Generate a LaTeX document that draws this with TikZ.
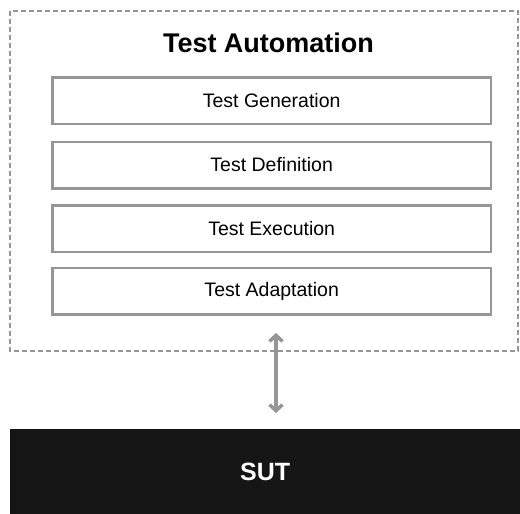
\documentclass[tikz,border=0pt]{standalone}
\usepackage{fontspec}
\setmainfont{Liberation Sans}
\usetikzlibrary{arrows.meta}
\definecolor{edgegray}{RGB}{150,150,150}
\definecolor{sutblack}{RGB}{21,21,21}
\begin{document}
\begin{tikzpicture}[x=1pt,y=-1pt,
  layerbox/.style={draw=edgegray,line width=2.5pt,minimum width=438.5pt,minimum height=46.5pt,inner sep=0pt,font=\fontsize{19.5}{22}\selectfont,anchor=north west},
  outerbox/.style={draw=edgegray,line width=1.5pt,dash pattern=on 5pt off 3pt},
  link/.style={draw=edgegray,line width=3.5pt,{Straight Barb[length=6pt,width=13pt]}-{Straight Barb[length=6pt,width=13pt]}}]
\useasboundingbox (0,0) rectangle (520,514);
\draw[outerbox] (10,11) rectangle (518,351);
\node[font=\bfseries\fontsize{27}{30}\selectfont] (title) at (268.5,42.5) {Test Automation};
\node[layerbox] (gen) at (51.2,76.2) {Test Generation};
\node[layerbox] (def) at (51.2,140.5) {Test Definition};
\node[layerbox] (exe) at (51.2,204) {Test Execution};
\node[layerbox] (ada) at (51.2,266.5) {Test Adaptation};
\node[fill=sutblack,text=white,font=\bfseries\fontsize{25}{30}\selectfont,minimum width=510pt,minimum height=85pt,inner sep=0pt,anchor=north west] (sut) at (10,429) {SUT};
\coordinate (atop) at (276,333);
\coordinate (abot) at (276,413);
\draw[link] (atop) -- (abot);
\end{tikzpicture}
\end{document}
